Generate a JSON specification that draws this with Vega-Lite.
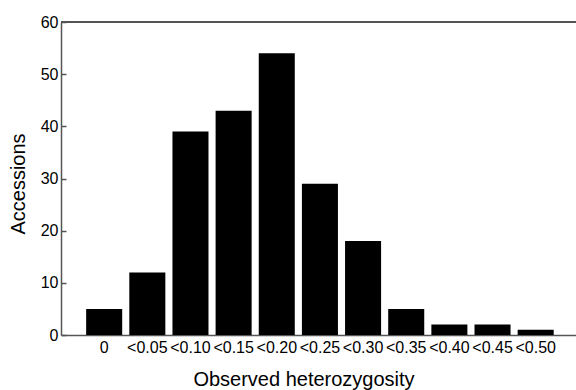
{
  "$schema": "https://vega.github.io/schema/vega-lite/v6.json",
  "width": 515,
  "height": 313,
  "autosize": {"type": "none"},
  "padding": {"left": 61, "top": 22, "right": 0, "bottom": 55},
  "background": "white",
  "config": {
    "view": {"stroke": null},
    "font": "Liberation Sans",
    "axis": {"grid": false, "labelFont": "Liberation Sans", "titleFont": "Liberation Sans", "labelColor": "#000", "titleColor": "#000", "titleFontWeight": "normal", "domainColor": "#555", "domainWidth": 1.5, "tickColor": "#555", "tickWidth": 1.5}
  },
  "data": {"values": [
    {"bin": "0", "count": 5},
    {"bin": "<0.05", "count": 12},
    {"bin": "<0.10", "count": 39},
    {"bin": "<0.15", "count": 43},
    {"bin": "<0.20", "count": 54},
    {"bin": "<0.25", "count": 29},
    {"bin": "<0.30", "count": 18},
    {"bin": "<0.35", "count": 5},
    {"bin": "<0.40", "count": 2},
    {"bin": "<0.45", "count": 2},
    {"bin": "<0.50", "count": 1}
  ]},
  "layer": [
    {
      "mark": {"type": "bar", "color": "#000"},
      "encoding": {
        "x": {"field": "bin", "type": "nominal", "sort": null,
          "scale": {"paddingInner": 0.165, "paddingOuter": 0.55, "align": 0.53},
          "axis": {"title": "Observed heterozygosity", "labelAngle": 0, "ticks": false, "labelFontSize": 16, "labelPadding": 4, "titleFontSize": 20, "titlePadding": 14, "titleX": 242.5}},
        "y": {"field": "count", "type": "quantitative",
          "scale": {"domain": [0, 60], "nice": false},
          "axis": {"title": "Accessions", "values": [0, 10, 20, 30, 40, 50, 60], "tickSize": -5, "labelPadding": 8, "labelFontSize": 16, "titleFontSize": 20, "titlePadding": 12, "titleY": 161.5}}
      }
    },
    {
      "mark": {"type": "rule", "color": "#555", "strokeWidth": 1.5},
      "encoding": {"y": {"datum": 60}}
    }
  ]
}
